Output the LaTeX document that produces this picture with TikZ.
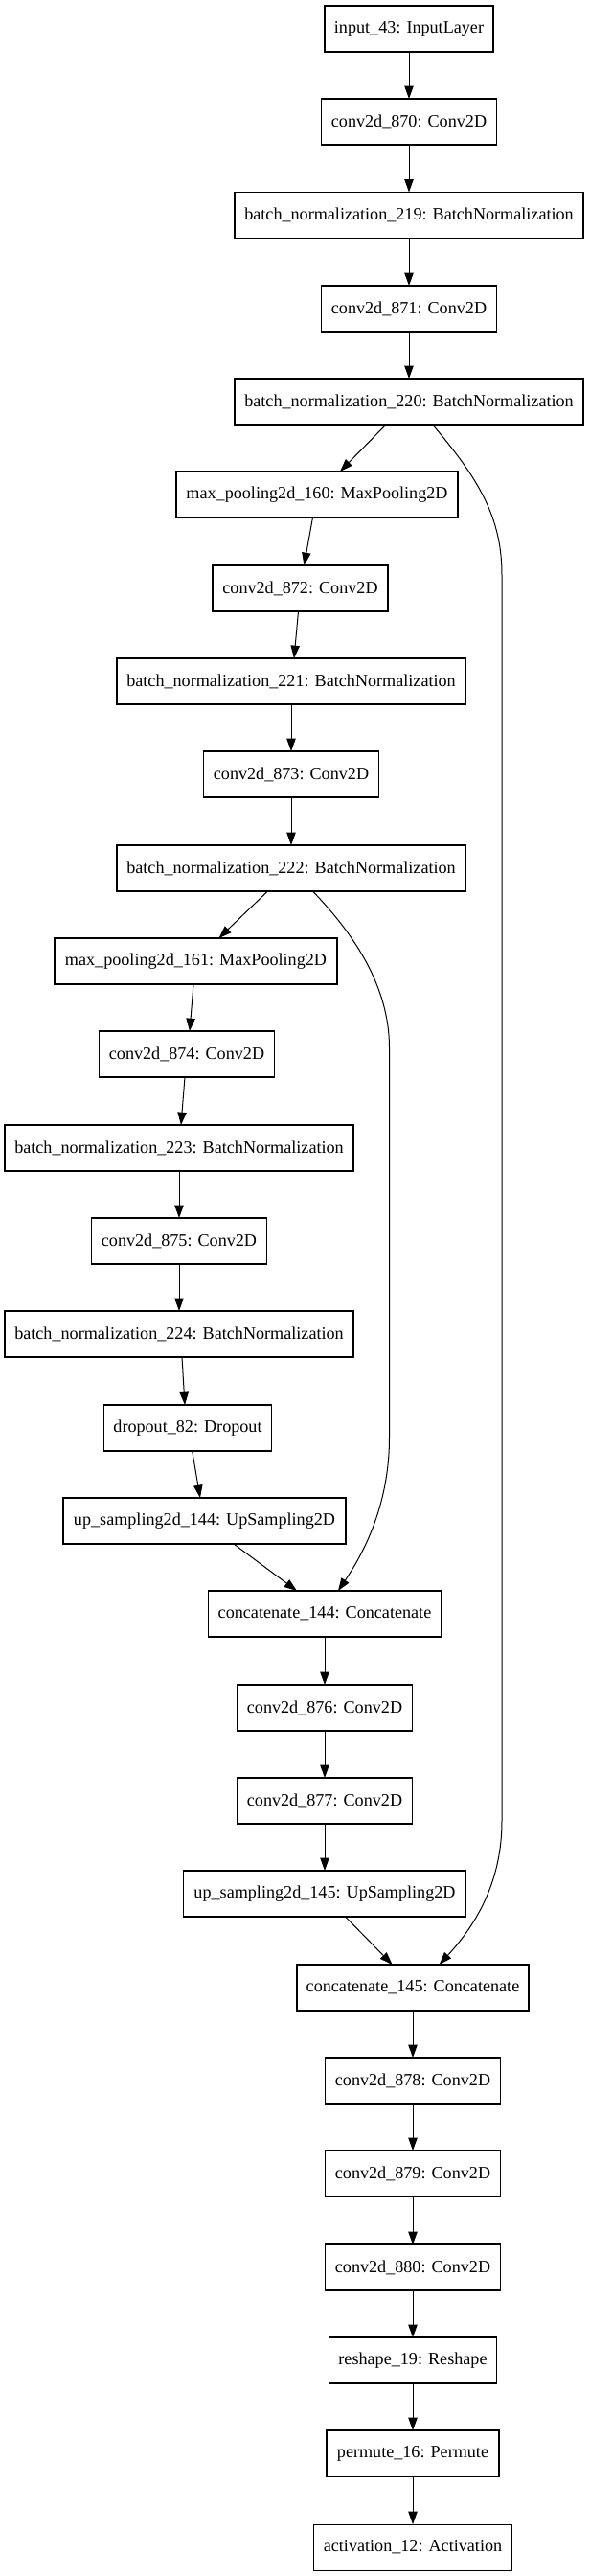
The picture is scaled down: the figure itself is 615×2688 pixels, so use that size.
\documentclass[tikz,border=0pt]{standalone}
\usepackage{fontspec}
\setmainfont{Liberation Serif}
\usetikzlibrary{arrows.meta,calc}
\begin{document}
\begin{tikzpicture}[x=0.75pt,y=-0.75pt,
  lay/.style={draw=black, line width=0.8pt, minimum height=36pt, minimum width=#1*0.75pt,
    inner sep=0pt, outer sep=0pt, font=\fontsize{13.6pt}{16pt}\selectfont},
  arr/.style={draw=black, line width=0.75pt, -{Triangle[length=10pt,width=7pt]}}]
\fill[white] (0,0) rectangle (615,2688);
\useasboundingbox (0,0) rectangle (615,2688);

\node[lay=176] (in) at (427,30) {input\_43: InputLayer};
\node[lay=183] (c870) at (427,127) {conv2d\_870: Conv2D};
\node[lay=364] (bn219) at (427,224.5) {batch\_normalization\_219: BatchNormalization};
\node[lay=183] (c871) at (427,322) {conv2d\_871: Conv2D};
\node[lay=364] (bn220) at (427,419) {batch\_normalization\_220: BatchNormalization};
\node[lay=294] (mp160) at (331,516) {max\_pooling2d\_160: MaxPooling2D};
\node[lay=183] (c872) at (313.5,614) {conv2d\_872: Conv2D};
\node[lay=364] (bn221) at (304,711) {batch\_normalization\_221: BatchNormalization};
\node[lay=183] (c873) at (304,808) {conv2d\_873: Conv2D};
\node[lay=364] (bn222) at (304,906) {batch\_normalization\_222: BatchNormalization};
\node[lay=295] (mp161) at (204.5,1003) {max\_pooling2d\_161: MaxPooling2D};
\node[lay=183] (c874) at (195,1100) {conv2d\_874: Conv2D};
\node[lay=364] (bn223) at (187,1198) {batch\_normalization\_223: BatchNormalization};
\node[lay=183] (c875) at (187,1295) {conv2d\_875: Conv2D};
\node[lay=364] (bn224) at (187,1392) {batch\_normalization\_224: BatchNormalization};
\node[lay=175] (do82) at (196,1490) {dropout\_82: Dropout};
\node[lay=295] (up144) at (213.5,1587) {up\_sampling2d\_144: UpSampling2D};
\node[lay=243] (cat144) at (339,1684) {concatenate\_144: Concatenate};
\node[lay=183] (c876) at (339,1782) {conv2d\_876: Conv2D};
\node[lay=183] (c877) at (339,1879) {conv2d\_877: Conv2D};
\node[lay=295] (up145) at (339,1976) {up\_sampling2d\_145: UpSampling2D};
\node[lay=242] (cat145) at (431,2074) {concatenate\_145: Concatenate};
\node[lay=183] (c878) at (431,2171) {conv2d\_878: Conv2D};
\node[lay=183] (c879) at (431,2268) {conv2d\_879: Conv2D};
\node[lay=183] (c880) at (431,2366) {conv2d\_880: Conv2D};
\node[lay=175] (rs19) at (431,2463) {reshape\_19: Reshape};
\node[lay=180] (pm16) at (431,2560) {permute\_16: Permute};
\node[lay=207] (act12) at (431,2658) {activation\_12: Activation};

\draw[arr] (in.south) -- (c870.north);
\draw[arr] (c870.south) -- (bn219.north);
\draw[arr] (bn219.south) -- (c871.north);
\draw[arr] (c871.south) -- (bn220.north);
\draw[arr] ($(bn220.south)+(-24,0)$) -- ($(mp160.north)+(24,0)$);
\draw[arr] ($(bn220.south)+(24.6,0)$) .. controls (500,500) and (524,540) .. (524,600)
  -- (524,1900) .. controls (524,1960) and (500,2005) .. ($(cat145.north)+(27.6,0)$);
\draw[arr] ($(mp160.south)+(-4.5,0)$) -- ($(c872.north)+(4,0)$);
\draw[arr] ($(c872.south)+(-2,0)$) -- ($(bn221.north)+(3,0)$);
\draw[arr] (bn221.south) -- (c873.north);
\draw[arr] (c873.south) -- (bn222.north);
\draw[arr] ($(bn222.south)+(-24.5,0)$) -- ($(mp161.north)+(24,0)$);
\draw[arr] ($(bn222.south)+(22.5,0)$) .. controls (370,975) and (406.5,1030) .. (406.5,1093)
  -- (406.5,1500) .. controls (406.5,1570) and (380,1620) .. ($(cat144.north)+(14,0)$);
\draw[arr] ($(mp161.south)+(-2.5,0)$) -- ($(c874.north)+(3,0)$);
\draw[arr] ($(c874.south)+(-2,0)$) -- ($(bn223.north)+(2,0)$);
\draw[arr] (bn223.south) -- (c875.north);
\draw[arr] (c875.south) -- (bn224.north);
\draw[arr] ($(bn224.south)+(3,0)$) -- ($(do82.north)+(-3,0)$);
\draw[arr] ($(do82.south)+(4.7,0)$) -- ($(up144.north)+(-4.5,0)$);
\draw[arr] ($(up144.south)+(30.5,0)$) -- ($(cat144.north)+(-29,0)$);
\draw[arr] (cat144.south) -- (c876.north);
\draw[arr] (c876.south) -- (c877.north);
\draw[arr] (c877.south) -- (up145.north);
\draw[arr] ($(up145.south)+(21.6,0)$) -- ($(cat145.north)+(-21.4,0)$);
\draw[arr] (cat145.south) -- (c878.north);
\draw[arr] (c878.south) -- (c879.north);
\draw[arr] (c879.south) -- (c880.north);
\draw[arr] (c880.south) -- (rs19.north);
\draw[arr] (rs19.south) -- (pm16.north);
\draw[arr] (pm16.south) -- (act12.north);
\end{tikzpicture}
\end{document}
